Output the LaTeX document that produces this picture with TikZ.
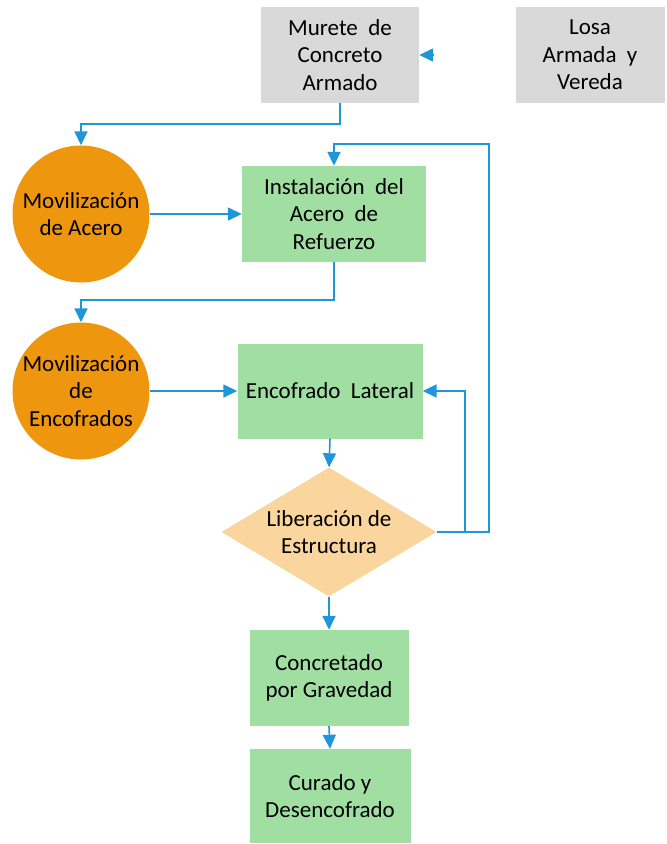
\documentclass[tikz,border=0pt]{standalone}
\usepackage{fontspec}
\setmainfont{Carlito}
\usetikzlibrary{shapes.geometric,arrows.meta}

\definecolor{gris}{RGB}{217,217,217}
\definecolor{verde}{RGB}{160,222,162}
\definecolor{naranja}{RGB}{238,150,14}
\definecolor{durazno}{RGB}{250,213,157}
\definecolor{azul}{RGB}{30,150,215}

\begin{document}
\begin{tikzpicture}[x=1pt, y=-1pt,
  every node/.style={font=\fontsize{23}{27.5}\selectfont, align=center, inner sep=0pt},
  caja/.style={rectangle, fill=verde, minimum height=96},
  gcaja/.style={rectangle, fill=gris, minimum height=96},
  movil/.style={circle, fill=naranja, minimum size=137},
  decis/.style={diamond, fill=durazno, aspect=1.67, minimum width=215, minimum height=129},
  link/.style={azul, line width=1.6pt, -{Triangle[length=14pt, width=13pt]}}]
\useasboundingbox (0,0) rectangle (667,844);

% cajas
\node[gcaja, minimum width=158] (mur) at (340,55) {Murete\ \ de\\Concreto\\Armado};
\node[gcaja, minimum width=149] (losa) at (590,55) {Losa\\Armada\ \ y\\Vereda};
\node[movil] (mova) at (81,214) {Movilización\\de Acero};
\node[caja, minimum width=184] (ins) at (334,214) {Instalación\ \ del\\Acero\ \ de\\Refuerzo};
\node[movil] (move) at (81,391) {Movilización\\de\\Encofrados};
\node[caja, minimum width=185, minimum height=95] (enc) at (330,391) {Encofrado\ \ Lateral};
\node[decis] (lib) at (329,532) {Liberación de\\Estructura};
\node[caja, minimum width=159] (con) at (329,678) {Concretado\\por Gravedad};
\node[caja, minimum width=161, minimum height=94] (cur) at (330,796) {Curado y\\Desencofrado};

\coordinate (punta) at (433,55);
\coordinate (ret) at (489,144);

% flechas
\draw[link] (punta) -- (mur.east);
\draw[link] (mur.south) -- ++(0,21) -| (mova.north);
\draw[link] (mova.east) -- (ins.west);
\draw[link] (ins.south) -- ++(0,38) -| (move.north);
\draw[link] (move.east) -- (enc.west);
\draw[link] (enc.south) -- (lib.north);
\draw[link] (lib.east) -| (ret) -| (ins.north);
\draw[link] (lib.east) -- ++(28,0) |- (enc.east);
\draw[link] (lib.south) -- (con.north);
\draw[link] (con.south) -- (cur.north);
\end{tikzpicture}
\end{document}
